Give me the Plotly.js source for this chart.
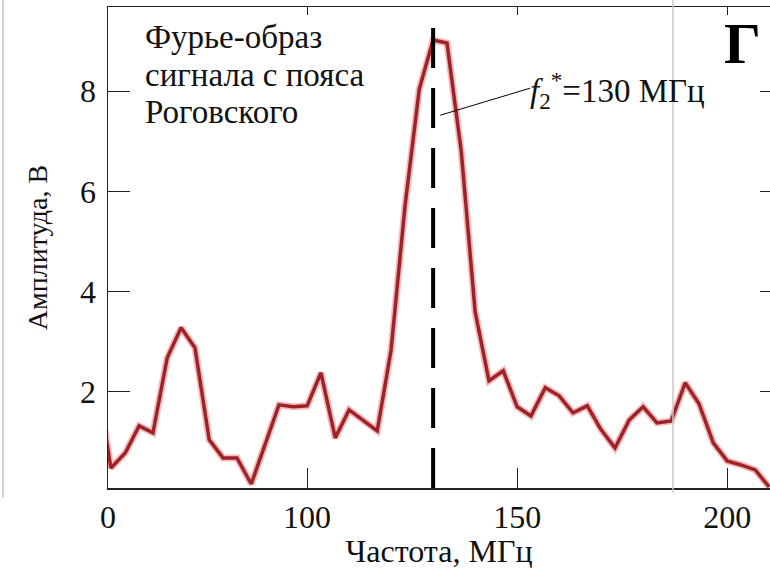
<!DOCTYPE html>
<html>
<head>
<meta charset="utf-8">
<script src="https://cdn.plot.ly/plotly-3.0.1.min.js"></script>
<style>html,body{margin:0;padding:0;background:#fff;}#chart{width:770px;height:569px;}</style>
</head>
<body>
<div id="chart"></div>
<script>
// Frequency, MHz
const freq = [50, 53.3, 56.7, 60, 63.3, 66.7, 70, 73.3, 76.7, 80, 83.3, 86.7, 93.3, 96.7, 100,
  103.3, 106.7, 110, 116.7, 120, 123.3, 126.7, 130, 133.3, 136.7, 140, 143.3, 146.7, 150,
  153.3, 156.7, 160, 163.3, 166.7, 170, 173.3, 176.7, 180, 183.3, 186.7, 190, 193.3, 196.7,
  200, 203.3, 206.7, 210];
// Amplitude, V
const amplitude = [2.2, 0.48, 0.78, 1.32, 1.18, 2.68, 3.28, 2.88, 1.04, 0.68, 0.68, 0.16, 1.74, 1.70, 1.72,
  2.38, 1.08, 1.64, 1.22, 2.84, 5.7, 8.04, 9.02, 8.96, 6.8, 3.6, 2.22, 2.42, 1.70,
  1.52, 2.08, 1.92, 1.58, 1.72, 1.24, 0.88, 1.44, 1.70, 1.38, 1.42, 2.18, 1.76, 0.98,
  0.62, 0.54, 0.44, 0.10];
const xTickVals = [52.6, 100, 150, 200];
const xTickText = ["0", "100", "150", "200"];
const yTickVals = [2, 4, 6, 8];
const peakFreq = 130;
const noteLines = ["Фурье-образ", "сигнала с пояса", "Роговского"];

const serif = "Liberation Serif";

const traces = [
  {x: freq, y: amplitude, type: "scatter", mode: "lines",
   line: {color: "rgba(225,60,60,0.35)", width: 7}, hoverinfo: "skip", showlegend: false},
  {x: freq, y: amplitude, type: "scatter", mode: "lines",
   line: {color: "#9e2329", width: 3.5}, showlegend: false},
  {x: [null], y: [null], xaxis: "x2", yaxis: "y2", type: "scatter", mode: "lines",
   hoverinfo: "skip", showlegend: false}
];

const xr = [52.6, 210.2], yr = [0.08, 9.68];

const noteY = [0.9376, 0.8596, 0.7817];
const noteAnnotations = noteLines.map((t, i) => ({
  xref: "paper", yref: "paper", x: 0.053, y: noteY[i], xanchor: "left", yanchor: "middle",
  align: "left", showarrow: false, text: t,
  font: {family: serif, size: 33, color: "#111"}
}));

const layout = {
  width: 770, height: 569,
  margin: {l: 108, r: 0, t: 7, b: 81},
  paper_bgcolor: "#fff", plot_bgcolor: "#fff",
  font: {family: serif, color: "#111", size: 32},
  xaxis: {
    range: xr, showgrid: false, zeroline: false,
    showline: true, mirror: true, linecolor: "#222", linewidth: 1.5,
    ticks: "inside", ticklen: 20, tickwidth: 1, tickcolor: "#222",
    tickvals: xTickVals, ticktext: xTickText,
    tickfont: {family: serif, size: 32, color: "#111"},
    title: {text: "Частота, МГц", font: {family: serif, size: 32, color: "#111"}, standoff: 10},
    automargin: false
  },
  yaxis: {
    range: yr, showgrid: false, zeroline: false,
    showline: true, mirror: true, linecolor: "#222", linewidth: 1.5,
    ticks: "inside", ticklen: 22, tickwidth: 1, tickcolor: "#222",
    tickvals: yTickVals, ticklabelstandoff: 4,
    tickfont: {family: serif, size: 32, color: "#111"},
    title: {text: "Амплитуда, В", font: {family: serif, size: 28, color: "#111"}, standoff: 24},
    automargin: false
  },
  xaxis2: {
    overlaying: "x", side: "top", anchor: "y", range: xr,
    showgrid: false, zeroline: false, showline: false,
    ticks: "inside", ticklen: 8, tickcolor: "#222", tickvals: xTickVals, showticklabels: false
  },
  yaxis2: {
    overlaying: "y", side: "right", anchor: "x", range: yr,
    showgrid: false, zeroline: false, showline: false,
    ticks: "inside", ticklen: 10, tickcolor: "#222", tickvals: yTickVals, showticklabels: false
  },
  shapes: [
    {type: "line", xref: "x", yref: "paper", x0: peakFreq, x1: peakFreq, y0: 0, y1: 0.958,
     line: {color: "#000", width: 4, dash: "40px,20px"}},
    {type: "line", xref: "x", yref: "y", x0: 131.7, y0: 7.52, x1: 153.1, y1: 8.06,
     line: {color: "#000", width: 1}},
    {type: "line", xref: "paper", yref: "paper", x0: 0.8535, x1: 0.8535, y0: -0.01, y1: 1.02,
     line: {color: "#c8c8c8", width: 1.5}},
    {type: "line", xref: "paper", yref: "paper", x0: -0.1586, x1: -0.1586, y0: -0.02, y1: 1.02,
     line: {color: "#d0d0d0", width: 2}}
  ],
  annotations: noteAnnotations.concat([
    {xref: "paper", yref: "paper", x: 0.634, y: 0.826, xanchor: "left", yanchor: "middle",
     showarrow: false,
     text: "<i>f</i><sub>2</sub><sup>*</sup>=130 МГц",
     font: {family: serif, size: 33, color: "#111"}},
    {xref: "paper", yref: "paper", x: 0.928, y: 0.925, xanchor: "left", yanchor: "middle",
     showarrow: false, text: "<b>Г</b>",
     font: {family: serif, size: 58, color: "#000"}}
  ])
};

Plotly.newPlot("chart", traces, layout, {staticPlot: true, displayModeBar: false});
</script>
</body>
</html>
